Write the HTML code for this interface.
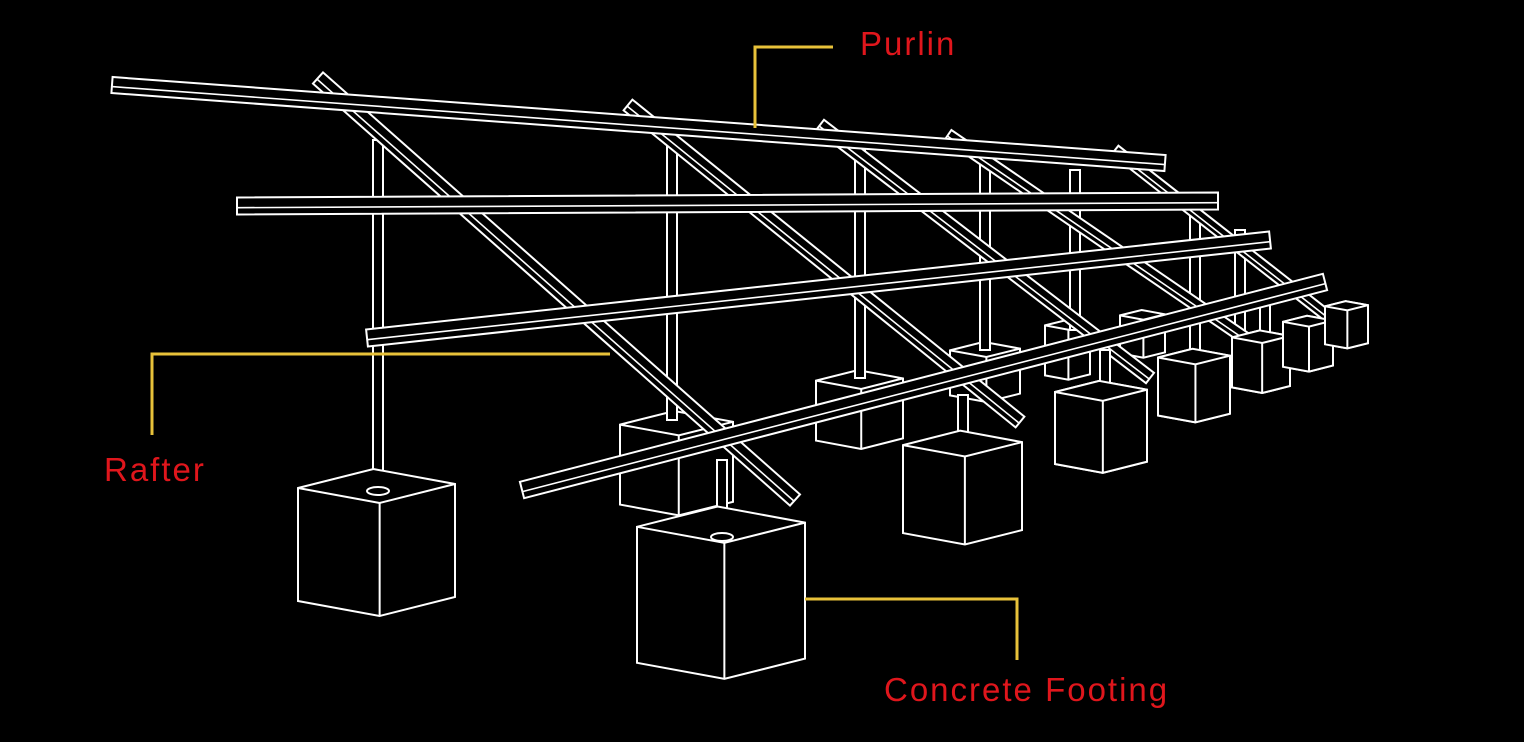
<!DOCTYPE html>
<html><head><meta charset="utf-8"><style>
html,body{margin:0;padding:0;background:#000;}
body{width:1524px;height:742px;overflow:hidden;position:relative;}
svg{position:absolute;left:0;top:0;}
.lbl{position:absolute;color:#e0161c;font-family:"Liberation Sans",sans-serif;font-size:33px;letter-spacing:2px;}
</style></head><body>
<svg id="s" width="1524" height="742" viewBox="0 0 1524 742"></svg>
<div class="lbl" style="left:860px;top:25px;">Purlin</div>
<div class="lbl" style="left:104px;top:451px;">Rafter</div>
<div class="lbl" style="left:884px;top:671px;">Concrete Footing</div>
<script>
var s=document.getElementById('s'),out='';
function P(pts){return pts.map(function(p){return p[0].toFixed(1)+','+p[1].toFixed(1)}).join(' ');}
function cube(x0,x1,y,h){var W=x1-x0,k=W/157;
 var L=[x0,y+12*k],F=[x0+.52*W,y+27*k],R=[x1,y+8*k],B=[L[0]+R[0]-F[0],L[1]+R[1]-F[1]];
 out+='<polygon points="'+P([L,B,R,[R[0],R[1]+h],[F[0],F[1]+h],[L[0],L[1]+h]])+'" fill="#000" stroke="#fff" stroke-width="2"/>';
 out+='<polyline points="'+P([L,F,R])+'" fill="none" stroke="#fff" stroke-width="2"/>';
 out+='<line x1="'+F[0]+'" y1="'+F[1]+'" x2="'+F[0]+'" y2="'+(F[1]+h)+'" stroke="#fff" stroke-width="2"/>';}
function bar(x1,y1,x2,y2,w){var dx=x2-x1,dy=y2-y1,l=Math.hypot(dx,dy),nx=-dy/l*w/2,ny=dx/l*w/2;
 var a=[x1+nx,y1+ny],b=[x2+nx,y2+ny],c=[x2-nx,y2-ny],d=[x1-nx,y1-ny];
 out+='<polygon points="'+P([a,b,c,d])+'" fill="#000" stroke="#fff" stroke-width="2"/>';
 out+='<line x1="'+(x1+nx*.2)+'" y1="'+(y1+ny*.2)+'" x2="'+(x2+nx*.2)+'" y2="'+(y2+ny*.2)+'" stroke="#fff" stroke-width="1.6"/>';}
function post(x,y1,y2){out+='<rect x="'+(x-5)+'" y="'+y1+'" width="10" height="'+(y2-y1)+'" fill="#000" stroke="#fff" stroke-width="2"/>';}
cube(1325,1368,303,38);cube(1283,1333,318,45);cube(1232,1290,333,50);cube(1120,1165,312,38);
cube(1158,1230,352,58);cube(1045,1090,322,50);cube(950,1020,345,45);cube(1055,1147,385,72);
cube(816,903,374,60);cube(620,733,416,80);
post(1240,230,330);post(1195,200,355);post(1075,170,330);post(985,165,350);post(860,150,378);post(672,140,420);post(378,140,490);
bar(1115,150,1330,318,11);bar(948,135,1255,345,12);bar(820,125,1150,378,13);bar(628,105,1020,422,14);bar(318,78,795,500,15);
post(1265,300,340);post(1195,320,360);post(1105,350,392);post(963,395,445);
cube(1158,1230,352,58);cube(1232,1290,333,50);cube(1283,1333,318,45);cube(1325,1368,303,38);
cube(1055,1147,385,72);cube(903,1022,436,88);
bar(112,85,1165,163,16);bar(237,206,1218,201,17);bar(367,338,1270,240,17);bar(522,490,1325,282,17);
post(722,460,538);
cube(298,455,476,113);cube(637,805,514,136);
out+='<ellipse cx="378" cy="491" rx="11" ry="4" fill="none" stroke="#fff" stroke-width="2"/>';
out+='<ellipse cx="722" cy="537" rx="11" ry="4" fill="none" stroke="#fff" stroke-width="2"/>';
var y='#e8c23a';
out+='<polyline points="755,128 755,47 833,47" fill="none" stroke="'+y+'" stroke-width="3"/>';
out+='<polyline points="610,354 152,354 152,435" fill="none" stroke="'+y+'" stroke-width="3"/>';
out+='<polyline points="805,599 1017,599 1017,660" fill="none" stroke="'+y+'" stroke-width="3"/>';
s.innerHTML=out;
</script>
</body></html>
